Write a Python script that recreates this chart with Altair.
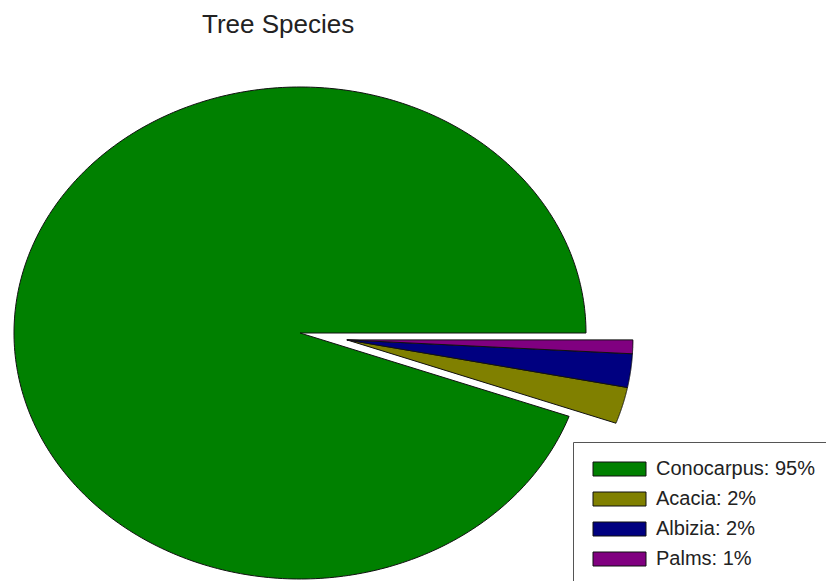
import altair as alt
import pandas as pd

# ---- data ----
species = ["Conocarpus", "Acacia", "Albizia", "Palms"]
shares = [94.5, 2.4, 2.2, 0.9]          # slice sizes (%), as measured
colors = ["#008000", "#808000", "#000080", "#800080"]
chart_title = "Tree Species"

# legend texts: "Name: NN%"
labels = [f"{s}: {int(v + 0.5)}%" for s, v in zip(species, shares)]

df = pd.DataFrame({
    "species": species,
    "value": shares,
    "label": labels,
    "k": list(range(len(species))),
})

# ---- geometry constants (style) ----
N = 360                 # points per slice outline
EXPLODE_X = 0.164       # explosion of the small slices (unit radii)
EXPLODE_Y = -0.028

pie = (
    alt.Chart(df)
    .transform_joinaggregate(total="sum(value)")
    .transform_window(cum="sum(value)", sort=[alt.SortField("k")], frame=[None, 0])
    .transform_calculate(
        a0="2*PI*(datum.cum - datum.value)/datum.total",
        a1="2*PI*datum.cum/datum.total",
        pts=f"sequence(-1, {N + 2})",
    )
    .transform_flatten(["pts"], as_=["i"])
    .transform_calculate(
        ang=f"datum.a0 + (datum.a1 - datum.a0) * clamp(datum.i, 0, {N}) / {N}"
    )
    .transform_calculate(rr=f"(datum.i < 0 || datum.i > {N}) ? 0 : 1")
    .transform_calculate(ox=f"datum.k > 0 ? {EXPLODE_X} : 0")
    .transform_calculate(oy=f"datum.k > 0 ? {EXPLODE_Y} : 0")
    .transform_calculate(px="datum.rr * cos(datum.ang) + datum.ox")
    .transform_calculate(py="datum.rr * sin(datum.ang) + datum.oy")
    .mark_line(filled=True, stroke="#111111", strokeWidth=1, strokeJoin="round")
    .encode(
        x=alt.X("px:Q", scale=alt.Scale(domain=[-1, 1], nice=False, zero=False), axis=None),
        y=alt.Y("py:Q", scale=alt.Scale(domain=[-1, 1], nice=False, zero=False), axis=None),
        color=alt.Color(
            "label:N",
            scale=alt.Scale(domain=labels, range=colors),
            legend=alt.Legend(
                title=None,
                orient="none",
                legendX=559,
                legendY=355,
                direction="vertical",
                symbolType="M-1,-1H6.5714V1H-1Z",
                symbolSize=196,
                symbolStrokeColor="#111111",
                symbolStrokeWidth=1,
                labelFont="Liberation Sans",
                labelFontSize=20,
                labelColor="#222222",
                labelOffset=46,
                labelLimit=400,
                rowPadding=10,
                padding=17,
                strokeColor="#555555",
                fillColor="white",
                cornerRadius=0,
            ),
        ),
        order=alt.Order("i:Q"),
    )
    .properties(
        width=572,
        height=492,
        title=alt.TitleParams(
            chart_title,
            anchor="start",
            frame="group",
            dx=188,
            offset=28,
            baseline="alphabetic",
            font="Liberation Sans",
            fontSize=26,
            fontWeight="normal",
            color="#222222",
        ),
        autosize=alt.AutoSizeParams(type="none"),
        padding={"left": 6, "top": 79, "right": 240, "bottom": 2},
        background="white",
    )
    .configure_view(stroke="transparent")
)

chart = pie
chart.save("out.html", embed_options={"renderer": "svg", "actions": False})
